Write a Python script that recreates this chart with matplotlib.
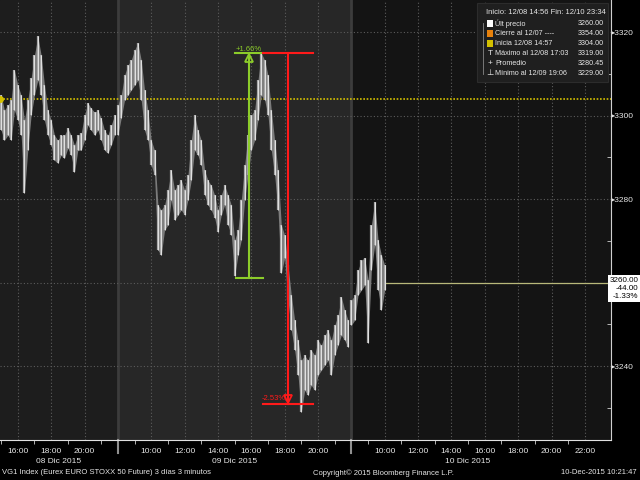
import matplotlib.pyplot as plt
from matplotlib.patches import Rectangle
from matplotlib.transforms import blended_transform_factory
import numpy as np

plt.rcParams['font.family'] = ['Liberation Sans Narrow', 'Liberation Sans', 'DejaVu Sans']

# 12-minute high/low bars, one list pair per trading day
day1_hi = [3304.9, 3301.3, 3302.5, 3303.7, 3310.9, 3307.3, 3304.9, 3298.9, 3303.7, 3309.0,
           3314.5, 3319.0, 3314.5, 3307.3, 3301.3, 3298.9, 3295.3, 3294.1, 3295.3, 3295.3,
           3297.0, 3295.3, 3292.9, 3295.3, 3295.8, 3300.1, 3303.0, 3301.8, 3300.8, 3301.3,
           3299.4, 3296.5, 3295.3, 3297.7, 3300.1]
day1_lo = [3296.5, 3294.1, 3295.3, 3294.1, 3301.3, 3298.9, 3295.3, 3281.4, 3291.7, 3300.1,
           3304.9, 3308.5, 3304.9, 3298.9, 3295.3, 3292.9, 3289.3, 3288.6, 3290.5, 3289.8,
           3292.2, 3290.5, 3286.5, 3291.7, 3291.7, 3294.1, 3297.7, 3296.5, 3295.3, 3296.5,
           3294.1, 3291.7, 3291.0, 3292.9, 3295.3]
day2_hi = [3302.5, 3304.9, 3309.7, 3312.1, 3313.3, 3315.7, 3317.4, 3313.3, 3306.1, 3301.3,
           3294.1, 3291.7, 3278.6, 3277.4, 3278.6, 3282.2, 3286.9, 3282.2, 3283.3, 3284.5,
           3282.2, 3285.7, 3294.1, 3300.1, 3296.5, 3294.1, 3286.9, 3284.5, 3283.3, 3281.0,
           3277.4, 3281.0, 3283.3, 3281.0, 3278.6, 3270.2, 3272.6, 3279.8, 3288.1, 3295.3,
           3300.1, 3301.3, 3308.5, 3315.0, 3313.3, 3309.7, 3301.3, 3294.1, 3286.9, 3273.8,
           3271.4, 3264.2, 3257.0, 3251.0, 3246.2, 3241.4, 3242.6, 3241.4, 3243.8, 3242.6,
           3246.2, 3245.0, 3247.4, 3248.6, 3246.2, 3249.8, 3252.2, 3256.5, 3253.4, 3251.0]
day2_lo = [3295.3, 3299.4, 3303.7, 3304.9, 3306.1, 3307.3, 3308.5, 3303.7, 3296.5, 3294.1,
           3288.1, 3285.7, 3267.8, 3266.6, 3272.6, 3273.8, 3279.8, 3275.0, 3276.2, 3277.4,
           3276.2, 3279.8, 3284.5, 3291.7, 3290.5, 3288.1, 3281.0, 3278.6, 3277.4, 3275.5,
           3272.1, 3276.2, 3278.6, 3273.8, 3271.4, 3261.5, 3266.6, 3270.2, 3279.8, 3285.7,
           3291.7, 3294.1, 3298.9, 3304.9, 3303.7, 3300.1, 3291.7, 3285.7, 3277.4, 3262.3,
           3265.9, 3255.8, 3248.6, 3243.8, 3237.8, 3229.0, 3234.2, 3233.0, 3235.4, 3234.2,
           3237.8, 3239.0, 3240.2, 3241.4, 3237.8, 3242.6, 3245.0, 3247.4, 3246.2, 3244.5]
day3_hi = [3255.8, 3257.0, 3263.0, 3265.4, 3265.9, 3260.6, 3273.8, 3279.3, 3270.2, 3266.6, 3264.2]
day3_lo = [3249.8, 3251.0, 3257.0, 3258.2, 3259.4, 3245.5, 3263.0, 3269.0, 3258.2, 3253.4, 3258.2]

last_price = 3260.0
open_price = 3304.0
up_from, up_to = 3261.0, 3315.0
down_to = 3231.0

legend_head = 'Inicio: 12/08 14:56 Fin: 12/10 23:34'
legend_labels = ['Últ precio', 'Cierre al 12/07 ----', 'Inicia 12/08 14:57',
                 'Máximo al 12/08 17:03', 'Promedio', 'Mínimo al 12/09 19:06']
legend_values = ['3260.00', '3354.00', '3304.00', '3319.00', '3280.45', '3229.00']
day_names = ['08 Dic 2015', '09 Dic 2015', '10 Dic 2015']

TXT = '#e6e6e6'


def tpos(day, hour):
    # trading-hour position: day 1 starts 14:56, later days run 08:00-22:00
    if day == 0:
        return hour - (14 + 56 / 60)
    return (22 - (14 + 56 / 60)) + (day - 1) * 14 + (hour - 8)


def bar_times(day, start, n):
    return [tpos(day, start + i * 0.2) for i in range(n)]


fig = plt.figure(figsize=(6.4, 4.8), dpi=100, facecolor='black')
ax = fig.add_axes([0, 40 / 480, 611 / 640, 440 / 480])
ax.set_facecolor('#161616')
x_end = tpos(2, 23 + 34 / 60)
ax.set_xlim(0, x_end)
ax.set_ylim(3222.3, 3327.7)

# day shading and separators
ax.axvspan(0, tpos(1, 8), color='#1d1d1d', zorder=0)
ax.axvspan(tpos(1, 8), tpos(2, 8), color='#272727', zorder=0)
ax.axvspan(tpos(2, 8), x_end, color='#141414', zorder=0)
bt = blended_transform_factory(ax.transData, ax.transAxes)
for d in (1, 2):
    ax.axvline(tpos(d, 8), color='#3c3c3c', lw=2, zorder=1)
    ax.plot([tpos(d, 8)] * 2, [0, -0.03], color='#909090', lw=1.5, clip_on=False, transform=bt)

# grid
yt = [3240, 3260, 3280, 3300, 3320]
for y in yt:
    ax.axhline(y, color='#5c5c5c', ls=(0, (1, 2)), lw=0.8, zorder=1)
xticks, xlabels = [], []
for d, hours in enumerate([[16, 18, 20], [10, 12, 14, 16, 18, 20], [10, 12, 14, 16, 18, 20, 22]]):
    for h in hours:
        xticks.append(tpos(d, h))
        xlabels.append(f'{h}:00')
for x in xticks:
    ax.axvline(x, color='#5c5c5c', ls=(0, (1, 2)), lw=0.8, zorder=1)
minor_x = [tpos(0, h) for h in (15, 17, 19, 21)] + [tpos(d, h) for d in (1, 2) for h in range(9, 23, 2)]
minor_x = [x for x in minor_x if 0 < x < x_end]

# reference levels
ax.axhline(open_price, color='#d4c000', ls=(0, (1, 1)), lw=1.2, zorder=2)
ax.plot([0], [open_price], 'o', color='#d4c000', ms=4, clip_on=False, zorder=5)
t_last = tpos(2, 8 + 0.2 * (len(day3_hi) - 1))
ax.plot([t_last, x_end], [last_price, last_price], color='#b8b87a', lw=0.9, zorder=2)

# price bars
for day, hi, lo in ((0, day1_hi, day1_lo), (1, day2_hi, day2_lo), (2, day3_hi, day3_lo)):
    start = 15.0 if day == 0 else 8.0
    t = bar_times(day, start, len(hi))
    ax.fill_between(t, lo, hi, color='#7c7c7c', lw=0, zorder=3)
    ax.vlines(t, lo, hi, color='#a8a8a8', lw=1.6, zorder=3)
    ax.vlines(t, lo, hi, color='#ececec', lw=0.6, zorder=4)

# move annotations
green, red = '#8ccc2a', '#ff1a1a'
gx = tpos(1, 15 + 52 / 60)
ax.plot([gx - 0.78, gx + 0.84], [up_from, up_from], color=green, lw=1.5, zorder=6)
ax.plot([gx - 0.84, gx + 0.84], [up_to, up_to], color=green, lw=1.5, zorder=6)
ax.plot([gx, gx], [up_from, up_to], color=green, lw=1.5, zorder=6)
ax.plot([gx], [up_to - 1.2], marker='^', ms=6, mfc='none', mec=green, mew=1.3, zorder=6)
ax.text(gx - 0.8, up_to + 0.6, f'+{(up_to / up_from - 1) * 100:.2f}%', color=green,
        fontsize=5.5, zorder=6)
rx = tpos(1, 18 + 13 / 60)
ax.plot([gx + 0.84, gx + 3.84], [up_to, up_to], color=red, lw=1.5, zorder=6)
ax.plot([gx + 0.84, gx + 3.84], [down_to, down_to], color=red, lw=1.5, zorder=6)
ax.plot([rx, rx], [down_to, up_to], color=red, lw=1.5, zorder=6)
ax.plot([rx], [down_to + 1.2], marker='v', ms=6, mfc='none', mec=red, mew=1.3, zorder=6)
ax.text(rx - 0.15, down_to + 0.4, f'{(down_to / up_to - 1) * 100:.2f}%', color=red,
        fontsize=5.5, ha='right', va='bottom', zorder=6)

# axes styling
for s in ('top', 'left'):
    ax.spines[s].set_visible(False)
ax.spines['right'].set_color('#d0d0d0')
ax.spines['bottom'].set_color('#e0e0e0')
ax.yaxis.tick_right()
ax.set_yticks(yt)
# the last-price box covers the 3260 label
ax.set_yticklabels(['' if y == last_price else f'▸{y}' for y in yt])
ax.set_yticks([3230, 3250, 3270, 3290, 3310], minor=True)
ax.tick_params(axis='y', which='major', length=0, pad=0, labelsize=6, labelcolor=TXT)
ax.tick_params(axis='y', which='minor', direction='in', length=3, color='#d0d0d0')
ax.set_xticks(xticks)
ax.set_xticklabels(xlabels)
ax.set_xticks(minor_x, minor=True)
ax.tick_params(axis='x', which='major', length=0, pad=6, labelsize=6, labelcolor=TXT)
ax.tick_params(axis='x', which='minor', direction='out', length=3, color='#d0d0d0')

day_mid = [tpos(1, 8) / 2, (tpos(1, 8) + tpos(2, 8)) / 2, (tpos(2, 8) + tpos(2, 22)) / 2]
for x, name in zip(day_mid, day_names):
    ax.text(x, -0.042, name, transform=bt, ha='center', va='top', fontsize=6,
            color=TXT, clip_on=False)

# last price box
ax.text(1.045, last_price + 1.4, f'{last_price:.2f}\n{last_price - open_price:.2f}\n'
        f'{(last_price / open_price - 1) * 100:.2f}%',
        transform=blended_transform_factory(ax.transAxes, ax.transData),
        ha='right', va='top', fontsize=5.8, color='black', linespacing=1.25, clip_on=False,
        bbox=dict(boxstyle='square,pad=0.25', fc='white', ec='none'))


# legend panel
def px(x, y):
    return x / 640, 1 - y / 480


fig.add_artist(Rectangle(px(477, 82), 131 / 640, 79 / 480, transform=fig.transFigure,
                         fc='#1f1f1f', ec='#2c2c2c', lw=0.8, zorder=10))
fig.text(*px(486, 13), legend_head, fontsize=5.5, color=TXT, va='center', zorder=11)
icons = ['#ffffff', '#e8820c', '#d4c000', 'T', '+', '⊥']
for i, (lab, val, ic) in enumerate(zip(legend_labels, legend_values, icons)):
    y = 23.3 + 10 * i
    if ic.startswith('#'):
        fig.add_artist(Rectangle(px(487, y + 3.5), 6 / 640, 6.5 / 480, transform=fig.transFigure,
                                 fc=ic, ec='none', zorder=11))
    else:
        fig.text(*px(490, y), ic, fontsize=6, color=TXT, ha='center', va='center', zorder=11)
    fig.text(*px(495, y), lab, fontsize=5.2, color=TXT, va='center', zorder=11)
    fig.text(*px(604, y), val, fontsize=5.2, color=TXT, va='center', ha='right', zorder=11)
fig.add_artist(plt.Line2D([483 / 640, 483 / 640], [1 - 23 / 480, 1 - 74 / 480],
                          transform=fig.transFigure, color='#888888', lw=0.6, zorder=11))

# footer
fig.text(*px(2, 473), 'VG1 Index (Eurex EURO STOXX 50 Future) 3 días 3 minutos', fontsize=5.5,
         color=TXT, va='center')
fig.text(*px(313, 473), 'Copyright© 2015 Bloomberg Finance L.P.', fontsize=5.5,
         color=TXT, va='center')
fig.text(*px(637, 473), '10-Dec-2015 10:21:47', fontsize=5.5, color=TXT,
         va='center', ha='right')

fig.savefig('out.png', dpi=100, facecolor='black')
